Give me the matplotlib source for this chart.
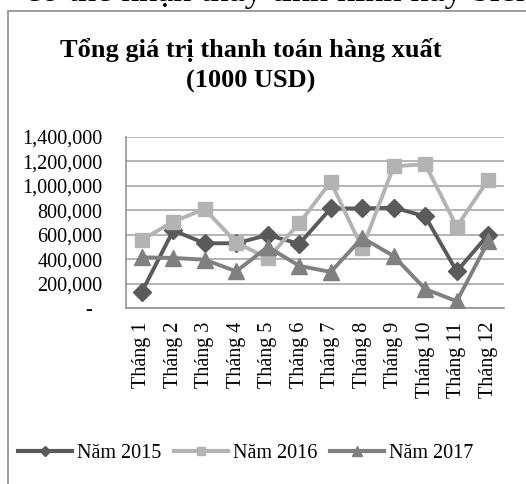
import matplotlib
matplotlib.use("Agg")
import matplotlib.pyplot as plt
from matplotlib.lines import Line2D
from matplotlib.patches import Rectangle

months = ["Tháng 1", "Tháng 2", "Tháng 3", "Tháng 4", "Tháng 5", "Tháng 6",
          "Tháng 7", "Tháng 8", "Tháng 9", "Tháng 10", "Tháng 11", "Tháng 12"]
y2015 = [130000, 635000, 530000, 530000, 598000, 525000,
         815000, 815000, 822000, 750000, 300000, 600000]
y2016 = [557000, 707000, 810000, 535000, 408000, 693000,
         1033000, 489000, 1160000, 1177000, 666000, 1050000]
y2017 = [415000, 410000, 395000, 300000, 500000, 345000,
         295000, 575000, 425000, 155000, 55000, 545000]
series_names = ["Năm 2015", "Năm 2016", "Năm 2017"]
yticks = [0, 200000, 400000, 600000, 800000, 1000000, 1200000, 1400000]

plt.rcParams['font.family'] = ['Liberation Serif', 'DejaVu Serif']

W, H = 526, 484
fig = plt.figure(figsize=(W / 100, H / 100), dpi=100)

# frame of the embedded chart object
fig.patches.append(Rectangle((8 / W, -0.1), 1.2, 1 - 11 / H + 0.1, transform=fig.transFigure,
                             fill=False, edgecolor='#8c8c8c', linewidth=1.2))
# partially visible document text at the very top
fig.text(25 / W, 1 - 1.0 / H, "có thể nhận thấy tình hình hay biến", fontsize=26,
         ha='left', va='baseline', color='black')

ax = fig.add_axes([126 / W, 1 - 308 / H, 378 / W, (308 - 137) / H])

c15, c16, c17 = '#5a5a5a', '#b3b3b3', '#808080'
x = list(range(len(months)))
ax.plot(x, y2015, color=c15, lw=2.8, marker='D', ms=9.5, zorder=3)
ax.plot(x, y2016, color=c16, lw=2.8, marker='s', ms=10.5, zorder=3)
ax.plot(x, y2017, color=c17, lw=2.8, marker='^', ms=11.5, zorder=3)

ax.set_xlim(-0.5, len(months) - 0.5)
ax.set_ylim(0, 1400000)
ax.set_yticks(yticks)
ax.set_yticklabels([("" if v == 0 else f"{v:,}") for v in yticks])
ax.set_xticks(x)
ax.set_xticklabels(months, rotation=90, va='top', ha='center')
ax.tick_params(axis='y', length=0, pad=17, labelsize=14.5)
ax.tick_params(axis='x', length=0, pad=10, labelsize=14.5)
ax.annotate("-", xy=(0, 0), xycoords=('axes fraction', 'data'), xytext=(-34, 0),
            textcoords='offset pixels', ha='right', va='center_baseline', fontsize=14.5)

ax.grid(axis='y', color='#a0a0a0', lw=1.1)
ax.set_axisbelow(True)
for s in ['top', 'right']:
    ax.spines[s].set_visible(False)
for s in ['left', 'bottom']:
    ax.spines[s].set_color('#8c8c8c')
    ax.spines[s].set_linewidth(1.1)

fig.text(251 / W, 1 - 57 / H, "Tổng giá trị thanh toán hàng xuất", fontsize=19,
         fontweight='bold', ha='center', va='baseline')
fig.text(251 / W, 1 - 88 / H, "(1000 USD)", fontsize=19,
         fontweight='bold', ha='center', va='baseline')

handles = [Line2D([], [], color=c15, lw=3, marker='D', ms=5),
           Line2D([], [], color=c16, lw=3, marker='s', ms=6),
           Line2D([], [], color=c17, lw=3, marker='^', ms=7)]
fig.legend(handles, series_names, loc='center left', bbox_to_anchor=(18 / W, 1 - 453 / H),
           ncol=3, frameon=False, fontsize=14.5, handlelength=2.7, handletextpad=0.25,
           columnspacing=0.6, borderpad=0, borderaxespad=0)

fig.savefig("out.png", dpi=100)
